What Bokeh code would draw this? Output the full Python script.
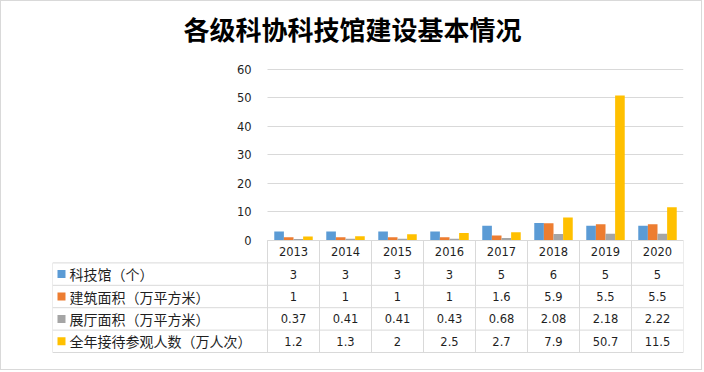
from bokeh.plotting import figure
from bokeh.models import ColumnDataSource, Range1d, FixedTicker, Grid
from bokeh.transform import dodge
from bokeh.embed import file_html
from bokeh.resources import INLINE
from bokeh.core.properties import value

# ---------------- data ----------------
title_text = "各级科协科技馆建设基本情况"
years = ["2013", "2014", "2015", "2016", "2017", "2018", "2019", "2020"]
series_names = ["科技馆（个）", "建筑面积（万平方米）", "展厅面积（万平方米）", "全年接待参观人数（万人次）"]
museums = [3, 3, 3, 3, 5, 6, 5, 5]
building_area = [1, 1, 1, 1, 1.6, 5.9, 5.5, 5.5]
hall_area = [0.37, 0.41, 0.41, 0.43, 0.68, 2.08, 2.18, 2.22]
visitors = [1.2, 1.3, 2, 2.5, 2.7, 7.9, 50.7, 11.5]
y_ticks = [0, 10, 20, 30, 40, 50, 60]

# ---------------- style / layout ----------------
colors = ["#5B9BD5", "#ED7D31", "#A5A5A5", "#FFC000"]
GRID = "#d9d9d9"
TXT = "#1f1f1f"
NUM_FONT = "DejaVu Sans"
CJK_FONT = "Noto Sans CJK SC"
LABEL_W = 4.135          # label column width, in year-column units
BAR_W = 0.185

W, H = 702, 370          # inside a 1px css border -> 704 x 372
FRAME_TOP = 50
FRAME_LEFT = 51
FRAME_RIGHT = 682
Y0_PX, YTOP_PX = 238.5, 67.5     # pixel rows of value 0 and of the top tick
TABLE_TOP_PX, ROW_H = 239.0, 22.4

series_values = [museums, building_area, hall_area, visitors]
n = len(years)
nrow = len(series_names) + 1
xc = [i + 0.5 for i in range(n)]

ppu = (Y0_PX - YTOP_PX) / y_ticks[-1]
y_start = -(H - Y0_PX) / ppu
y_end = y_ticks[-1] + (YTOP_PX - FRAME_TOP) / ppu
t_bottom = (H - TABLE_TOP_PX) / ROW_H
t_top = -(TABLE_TOP_PX - FRAME_TOP) / ROW_H

p = figure(width=W, height=H, x_range=Range1d(-LABEL_W, n), y_range=Range1d(y_start, y_end),
           x_axis_location=None, toolbar_location=None, output_backend="svg",
           min_border_left=FRAME_LEFT, min_border_right=W - FRAME_RIGHT,
           min_border_top=FRAME_TOP, min_border_bottom=0,
           title=title_text, styles={"border": "1px solid #d9d9d9"})
p.extra_y_ranges = {"table": Range1d(t_bottom, t_top)}
p.outline_line_color = None

p.title.align = "left"
p.title.offset = 131
p.title.text_font = CJK_FONT
p.title.text_font_size = "26px"
p.title.text_font_style = "bold"
p.title.text_color = "#000000"

# grid & value axis
p.xgrid.visible = False
p.ygrid.ticker = FixedTicker(ticks=y_ticks)
p.ygrid.grid_line_color = GRID
if "cross_bounds" in Grid.properties():
    p.ygrid.cross_bounds = (0, n)
p.yaxis.fixed_location = 0
p.yaxis.ticker = FixedTicker(ticks=y_ticks)
p.yaxis.axis_line_color = None
p.yaxis.major_tick_line_color = None
p.yaxis.minor_tick_line_color = None
p.yaxis.major_label_standoff = 10
p.yaxis.major_label_text_font = NUM_FONT
p.yaxis.major_label_text_font_size = "11.5px"
p.yaxis.major_label_text_color = TXT

# bars
src = ColumnDataSource(dict(x=xc, s0=museums, s1=building_area, s2=hall_area, s3=visitors))
for k in range(4):
    off = (k - 1.5) * BAR_W
    p.vbar(x=dodge("x", off, range=p.x_range), top=f"s{k}", bottom=0, width=BAR_W,
           source=src, fill_color=colors[k], line_color=None)

# data table lines
hx0, hx1, hy = [0], [n], [0]
for r in range(1, nrow + 1):
    hx0.append(-LABEL_W); hx1.append(n); hy.append(r)
p.segment(x0=hx0, x1=hx1, y0=hy, y1=hy, line_color=GRID, line_width=1, y_range_name="table")
vx, vy0, vy1 = [-LABEL_W], [1], [nrow]
for c in range(n + 1):
    vx.append(c); vy0.append(0); vy1.append(nrow)
p.segment(x0=vx, x1=vx, y0=vy0, y1=vy1, line_color=GRID, line_width=1, y_range_name="table")

# header (years)
p.text(x=xc, y=[0.5] * n, text=years, text_align="center", text_baseline="middle",
       text_font=value(NUM_FONT), text_font_size="11.5px", text_color=TXT, y_range_name="table")

# values
cx, cy, ct = [], [], []
for k, vals in enumerate(series_values):
    for i, v in enumerate(vals):
        cx.append(xc[i]); cy.append(k + 1.5); ct.append(f"{v:g}")
p.text(x=cx, y=cy, text=ct, text_align="center", text_baseline="middle",
       text_font=value(NUM_FONT), text_font_size="11.5px", text_color=TXT, y_range_name="table")

# legend keys and row labels
ry = [k + 1.5 for k in range(len(series_names))]
p.scatter(x=[-LABEL_W + 0.173] * len(series_names), y=ry, marker="square", size=8,
          fill_color=colors, line_color=None, y_range_name="table")
p.text(x=[-LABEL_W + 0.327] * len(series_names), y=ry, text=series_names,
       text_align="left", text_baseline="middle",
       text_font=value(CJK_FONT), text_font_size="14px", text_color=TXT, y_range_name="table")

open("out.html", "w").write(file_html(p, INLINE))
